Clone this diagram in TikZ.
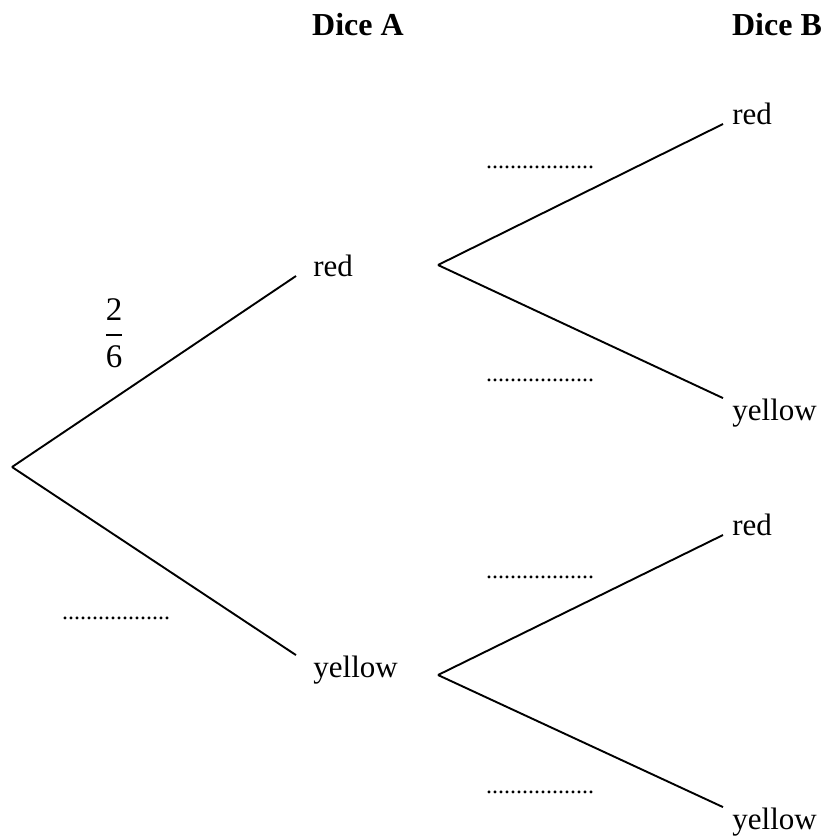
\documentclass[tikz,border=0pt]{standalone}
\usepackage{amsmath}
\usepackage{fontspec}
\setmainfont{Liberation Serif}
\usetikzlibrary{calc}

\begin{document}
\begin{tikzpicture}[
    x=0.5pt, y=-0.5pt,
    branch/.style={line width=0.95pt},
    outcome/.style={font=\fontsize{15.5}{18}\selectfont, inner ysep=0pt},
    first/.style={outcome, inner xsep=8.5pt},
    second/.style={outcome, inner xsep=4.5pt},
    header/.style={font=\fontsize{16}{19}\selectfont\bfseries},
    blank/.style={font=\fontsize{12}{14}\selectfont, inner sep=0pt, anchor=base}
    ]
    \useasboundingbox (0,0) rectangle (825,836);

    % forks
    \coordinate (root) at (12,467);
    \coordinate (forkR) at (438,265);
    \coordinate (forkY) at (438,675);
    % headings
    \node[header, anchor=base] (hA) at (358,35) {Dice A};
    \node[header, anchor=base] (hB) at (777,35) {Dice B};
    % dice A
    \node[first, anchor=base west] (redA) at (296,276) {red};
    \node[first, anchor=base west] (yellowA) at (296,677) {yellow};
    % dice B
    \node[second, anchor=base west] (redRB) at (723,124) {red};
    \node[second, anchor=base west] (redYB) at (723,420) {yellow};
    \node[second, anchor=base west] (yellowRB) at (723,535) {red};
    \node[second, anchor=base west] (yellowYB) at (723,829) {yellow};
    % branches
    \draw[branch] (root) -- (redA.base west);
    \draw[branch] (root) -- (yellowA.north west);
    \draw[branch] (forkR) -- (redRB.base west);
    \draw[branch] (forkR) -- (redYB.north west);
    \draw[branch] (forkY) -- (yellowRB.base west);
    \draw[branch] (forkY) -- (yellowYB.north west);
    % probabilities
    \node[font=\fontsize{16.5}{19}\selectfont] (pRed) at (114,333)
        {$\dfrac{\textrm{2}}{\textrm{6}}$};
    \node[blank] (pYellow) at (116,619) {..................};
    \node[blank] (pRR) at (540,168) {..................};
    \node[blank] (pRY) at (540,381) {..................};
    \node[blank] (pYR) at (540,578) {..................};
    \node[blank] (pYY) at (540,793) {..................};
\end{tikzpicture}
\end{document}
